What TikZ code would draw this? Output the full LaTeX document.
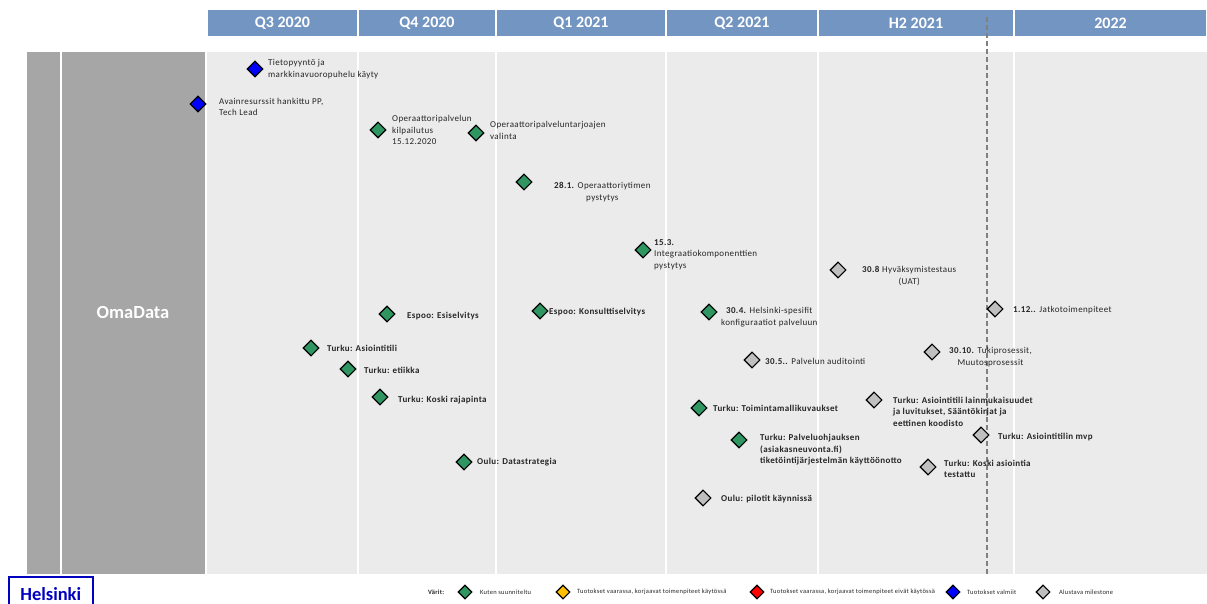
\documentclass[tikz,border=0pt]{standalone}
\usepackage{fontspec}
\setmainfont{Carlito}
\newfontfamily\lblfam[LetterSpace=4]{Carlito}
\usepackage{tikz}
\usetikzlibrary{shapes.geometric}
\usetikzlibrary{backgrounds}
\definecolor{hdrblue}{RGB}{115,149,194}
\definecolor{lanegray}{RGB}{166,166,166}
\definecolor{areagray}{RGB}{235,235,235}
\definecolor{msgreen}{RGB}{47,150,98}
\definecolor{msyellow}{RGB}{255,192,0}
\definecolor{msred}{RGB}{255,0,0}
\definecolor{msblue}{RGB}{0,0,255}
\definecolor{msgray}{RGB}{191,191,191}
\definecolor{dashgray}{RGB}{128,128,128}
\definecolor{hkiblue}{RGB}{0,0,191}
\definecolor{lbltext}{RGB}{38,38,38}
\newcommand{\areatop}{52}
\newcommand{\areabot}{574}
\newcommand{\todayx}{987}
\newcommand{\keyy}{592}
\newcommand{\lblfont}{\lblfam\fontsize{9}{11.5}\selectfont}
\newcommand{\keyfont}{\lblfam\fontsize{6.5}{7}\selectfont}
\tikzset{
  ms/.style={diamond, draw=black, line width=1.1pt, inner sep=0pt,
    minimum size=16pt},
  ontrack/.style={ms, fill=msgreen},
  atriskok/.style={ms, fill=msyellow},
  atrisk/.style={ms, fill=msred},
  ready/.style={ms, fill=msblue},
  draft/.style={ms, fill=msgray},
  keyms/.style={minimum size=14pt},
  lbl/.style={anchor=west, inner sep=0pt, align=left, font=\lblfont,
    text=lbltext},
  lblc/.style={lbl, align=center},
  blbl/.style={lbl, font=\lblfont\bfseries},
  keylbl/.style={anchor=west, inner sep=0pt, font=\keyfont, text=lbltext},
  hdrtext/.style={text=white, font=\bfseries\fontsize{16}{16}\selectfont}
}
\begin{document}
\begin{tikzpicture}[x=1pt, y=-1pt]
  \useasboundingbox (0,0) rectangle (1207,604);
  % header row
  \foreach \xa/\xb/\hdr in {207/358/Q3 2020, 358/496/Q4 2020,
      496/666/Q1 2021, 666/818/Q2 2021, 818/1014/H2 2021, 1014/1207/2022} {
    \fill[hdrblue] (\xa+1,10) rectangle (\xb-1,36);
    \node[hdrtext] (hdr\xa) at ({(\xa+\xb)/2},23) {\hdr};
  }
  % swimlane
  \fill[lanegray] (27,\areatop) rectangle (60,\areabot);
  \fill[lanegray] (62,\areatop) rectangle (205,\areabot);
  \node[text=white, font=\bfseries\fontsize{18.5}{18.5}\selectfont] (lane)
    at (133,313) {OmaData};
  \fill[areagray] (207,\areatop) rectangle (1207,\areabot);
  \foreach \xs in {358,496,666,818,1014}
    \draw[white, line width=1.5pt] (\xs,\areatop) -- (\xs,\areabot);
  % today
  \draw[dashgray, line width=1.6pt, dash pattern=on 5pt off 3pt]
    (\todayx,17) -- (\todayx,\areabot);

  % milestones
  \node[ready] (m1) at (255,69) {};
  \node[lbl] (t1) at (268,69) {Tietopyyntö ja\\markkinavuoropuhelu käyty};
  \node[ready] (m2) at (198,104) {};
  \node[lbl] (t2) at (219,107) {Avainresurssit hankittu PP,\\Tech Lead};
  \node[ontrack] (m3) at (378,130) {};
  \node[lbl] (t3) at (392,130) {Operaattoripalvelun\\kilpailutus\\15.12.2020};
  \node[ontrack] (m4) at (476,133) {};
  \node[lbl] (t4) at (490,130.5) {Operaattoripalveluntarjoajen\\valinta};
  \node[ontrack] (m5) at (524,182) {};
  \node[lblc] (t5) at (554,192)
    {\textbf{28.1.} Operaattoriytimen\\pystytys};
  \node[ontrack] (m6) at (643,250) {};
  \node[lbl] (t6) at (654,254.5)
    {\textbf{15.3.}\\Integraatiokomponenttien\\pystytys};
  \node[draft] (m7) at (838,270) {};
  \node[lblc] (t7) at (862,276) {\textbf{30.8} Hyväksymistestaus\\(UAT)};
  \node[ontrack] (m8) at (387,314) {};
  \node[blbl] (t8) at (407,316) {Espoo: Esiselvitys};
  \node[ontrack] (m9) at (540,311) {};
  \node[blbl] (t9) at (549,312) {Espoo: Konsulttiselvitys};
  \node[ontrack] (m10) at (709,312) {};
  \node[lblc] (t10) at (721,317)
    {\textbf{30.4.} Helsinki-spesifit\\konfiguraatiot palveluun};
  \node[draft] (m11) at (995,309) {};
  \node[lbl] (t11) at (1013,310) {\textbf{1.12..} Jatkotoimenpiteet};
  \node[ontrack] (m12) at (311,348) {};
  \node[blbl] (t12) at (327,348) {Turku: Asiointitili};
  \node[ontrack] (m13) at (348,369) {};
  \node[blbl] (t13) at (364,370) {Turku: etiikka};
  \node[ontrack] (m14) at (380,397) {};
  \node[blbl] (t14) at (398,400) {Turku: Koski rajapinta};
  \node[draft] (m15) at (752,360) {};
  \node[lbl] (t15) at (765,361) {\textbf{30.5..} Palvelun auditointi};
  \node[draft] (m16) at (932,352) {};
  \node[lblc] (t16) at (949,357)
    {\textbf{30.10.} Tukiprosessit,\\Muutosprosessit};
  \node[ontrack] (m17) at (699,408) {};
  \node[blbl] (t17) at (713,408) {Turku: Toimintamallikuvaukset};
  \node[draft] (m18) at (874,400) {};
  \node[blbl] (t18) at (893,411.5) {Turku: Asiointitili lainmukaisuudet\\ja
    luvitukset, Sääntökirjat ja\\eettinen koodisto};
  \node[ontrack] (m19) at (739,440) {};
  \node[blbl] (t19) at (760,450) {Turku: Palveluohjauksen\\(asiakasneuvonta.fi)\\tiketöintijärjestelmän käyttöönotto};
  \node[draft] (m20) at (981,435) {};
  \node[blbl] (t20) at (998,437) {Turku: Asiointitilin mvp};
  \node[draft] (m21) at (928,467) {};
  \node[blbl] (t21) at (944,469) {Turku: Koski asiointia\\testattu};
  \node[ontrack] (m22) at (464,462) {};
  \node[blbl] (t22) at (477,462) {Oulu: Datastrategia};
  \node[draft] (m23) at (703,498) {};
  \node[blbl] (t23) at (721,499) {Oulu: pilotit käynnissä};

  % logo
  \node[draw=hkiblue, line width=1.5pt, anchor=north west, minimum width=84pt,
    minimum height=34pt, text=hkiblue,
    font=\bfseries\fontsize{18.5}{18.5}\selectfont] (logo) at (8,576) {Helsinki};

  % legend
  \node[keylbl, font=\keyfont\bfseries] (keyhead) at (428,\keyy) {Värit:};
  \node[ontrack, keyms] (k1) at (465,\keyy) {};
  \node[keylbl] (kt1) at (480,\keyy) {Kuten suunniteltu};
  \node[atriskok, keyms] (k2) at (563,\keyy) {};
  \node[keylbl] (kt2) at (577,\keyy)
    {Tuotokset vaarassa, korjaavat toimenpiteet käytössä};
  \node[atrisk, keyms] (k3) at (757,\keyy) {};
  \node[keylbl] (kt3) at (770,\keyy)
    {Tuotokset vaarassa, korjaavat toimenpiteet eivät käytössä};
  \node[ready, keyms] (k4) at (953,\keyy) {};
  \node[keylbl] (kt4) at (967,\keyy) {Tuotokset valmiit};
  \node[draft, keyms] (k5) at (1043,\keyy) {};
  \node[keylbl] (kt5) at (1059,\keyy) {Alustava milestone};
\end{tikzpicture}
\end{document}
